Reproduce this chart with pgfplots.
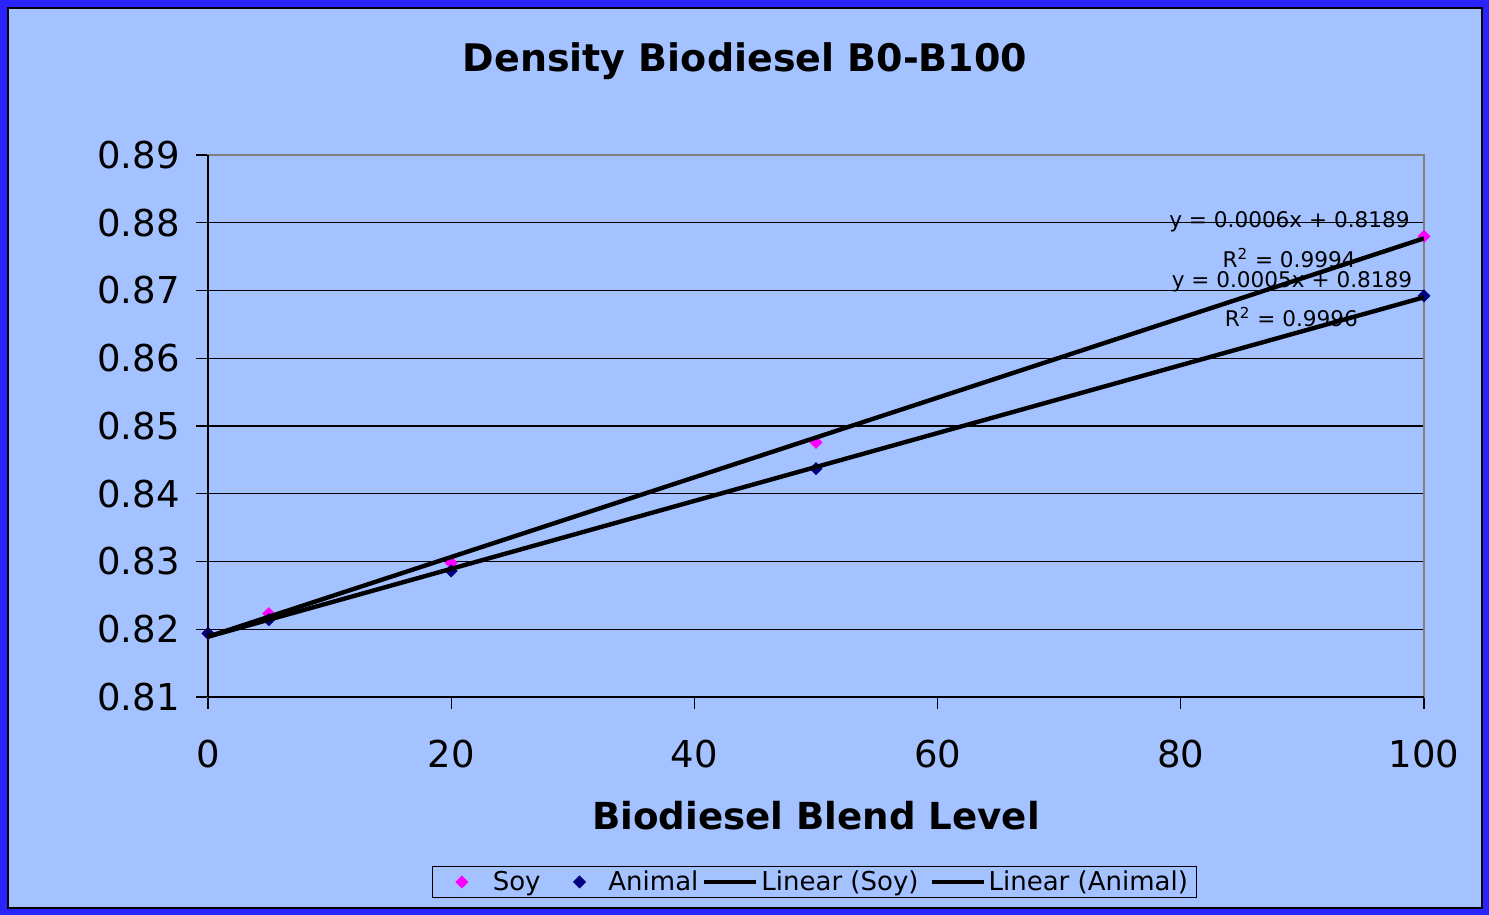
\documentclass[border=0pt]{standalone}
\usepackage{pgfplots}
\pgfplotsset{compat=1.18}
\usepackage{fontspec}
\setmainfont{DejaVu Sans}
\definecolor{bgblue}{HTML}{A4C2FF}
\definecolor{frameblue}{HTML}{2A24FF}
\definecolor{soycol}{HTML}{FF00FF}
\definecolor{animalcol}{HTML}{000080}
\begin{document}
\begin{tikzpicture}
\useasboundingbox (-104pt,-109pt) rectangle (640.5pt,348.5pt);
\fill[frameblue] (-104pt,-109pt) rectangle (640.5pt,348.5pt);
\filldraw[fill=bgblue, draw=black, line width=0.6pt] (-100pt,-105.5pt) rectangle (637pt,344.5pt);
\node[font=\bfseries\fontsize{19}{21}\selectfont, anchor=base, inner sep=0pt] at (268.5pt,312.5pt) {Density Biodiesel B0-B100};
\begin{axis}[
  at={(0pt,0pt)}, anchor=south west,
  scale only axis,
  width=608pt, height=271pt,
  xmin=0, xmax=100, ymin=0.81, ymax=0.89,
  xtick={0,20,...,100},
  ytick={0.81,0.82,...,0.89},
  y tick label style={/pgf/number format/fixed, /pgf/number format/fixed zerofill, /pgf/number format/precision=2},
  /pgf/number format/assume math mode=true,
  ticklabel style={font=\fontsize{18.5}{20}\selectfont, inner sep=0pt},
  xticklabel style={anchor=north, yshift=-15.5pt},
  yticklabel style={anchor=east, xshift=-8pt},
  tick align=outside, major tick length=6pt,
  xtick pos=bottom, ytick pos=left,
  tick style={black, line width=0.6pt},
  axis line style={draw=gray, line width=1pt},
  ymajorgrids, grid style={black, line width=0.6pt},
  xlabel={Biodiesel Blend Level},
  xlabel style={font=\bfseries\fontsize{18.6}{20}\selectfont, at={(axis description cs:0.5,-0.2196)}, anchor=center},
  legend columns=4,
  legend style={at={(axis description cs:0.4985,-0.3413)}, anchor=center, draw=black, fill=bgblue,
    font=\fontsize{13}{15}\selectfont, inner xsep=3.5pt, inner ysep=1.5pt,
    nodes={inner sep=0.5pt},
    /tikz/column 1/.style={column sep=12pt},
    /tikz/column 2/.style={column sep=16pt},
    /tikz/column 3/.style={column sep=11pt},
    /tikz/column 4/.style={column sep=1.5pt},
    /tikz/column 5/.style={column sep=1pt},
    /tikz/column 6/.style={column sep=5pt},
    /tikz/column 7/.style={column sep=1pt}},
  legend cell align=left,
  clip mode=individual,
]
\addplot[only marks, mark=square*, mark options={rotate=45}, mark size=2.1pt, color=soycol,
  legend image code/.code={\path (-11pt,0pt); \draw[only marks, mark=square*, mark options={rotate=45}, mark size=2.1pt] plot coordinates {(0pt,0pt)};}] coordinates {
  (0,0.8194) (5,0.8223) (20,0.8298) (50,0.8476) (100,0.8780)};
\addlegendentry{Soy}
\addplot[only marks, mark=square*, mark options={rotate=45}, mark size=2.1pt, color=animalcol,
  legend image code/.code={\draw[only marks, mark=square*, mark options={rotate=45}, mark size=2.1pt] plot coordinates {(0pt,0pt)};}] coordinates {
  (0,0.8194) (5,0.8214) (20,0.8286) (50,0.8437) (100,0.8692)};
\addlegendentry{Animal}
\addplot[black, line width=2.2pt, no marks, legend image code/.code={\draw[line width=2pt] (0pt,0pt) -- (26pt,0pt);}] coordinates {(0,0.8189) (100,0.8777)};
\addlegendentry{Linear (Soy)}
\addplot[black, line width=2.2pt, no marks, legend image code/.code={\draw[line width=2pt] (0pt,0pt) -- (26pt,0pt);}] coordinates {(0,0.8189) (100,0.8690)};
\addlegendentry{Linear (Animal)}
\draw[black, line width=1pt] (rel axis cs:0,0) -- (rel axis cs:0,1);
\draw[black, line width=1pt] (rel axis cs:0,0) -- (rel axis cs:1,0);
\node[font=\fontsize{10.8}{12}\selectfont, inner sep=0pt] at (axis cs:88.94,0.8801) {y = 0.0006x + 0.8189};
\node[font=\fontsize{10.8}{12}\selectfont, inner sep=0pt] at (axis cs:88.9,0.8748) {R\textsuperscript{2} = 0.9994};
\node[font=\fontsize{10.8}{12}\selectfont, inner sep=0pt] at (axis cs:89.14,0.8713) {y = 0.0005x + 0.8189};
\node[font=\fontsize{10.8}{12}\selectfont, inner sep=0pt] at (axis cs:89.1,0.8661) {R\textsuperscript{2} = 0.9996};
\end{axis}
\end{tikzpicture}
\end{document}
